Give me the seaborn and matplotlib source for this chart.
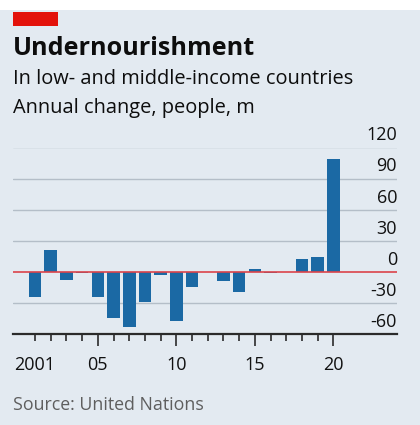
import matplotlib
matplotlib.use("Agg")
import matplotlib.pyplot as plt
import matplotlib.patches as mpatches
import seaborn as sns
import pandas as pd

# Annual change in undernourished people, millions
years = list(range(2001, 2021))
change = [-24, 21, -8, -1, -24, -45, -53, -29, -3, -47, -15, 0, -9, -19, 3, -1, 0, 12, 14, 109]

y_ticks = [-60, -30, 0, 30, 60, 90, 120]
x_label_years = [2001, 2005, 2010, 2015, 2020]
x_label_text = ["2001", "05", "10", "15", "20"]

BG = "#e3eaf1"
BLUE = "#1b69a4"
RED = "#db444b"
GRID = "#b4bec8"

sns.set_theme(style="white")
plt.rcParams["font.family"] = ["Open Sans", "DejaVu Sans"]

W, H = 420, 425
fig = plt.figure(figsize=(W / 100, H / 100), dpi=100)
fig.patch.set_facecolor(BG)

# white strip along the top
fig.add_artist(mpatches.Rectangle((0, 1 - 10 / H), 1, 10 / H, transform=fig.transFigure,
                                  facecolor="white", edgecolor="none", zorder=0))
# red tag
fig.add_artist(mpatches.Rectangle((13 / W, 1 - 26 / H), 45 / W, 14 / H, transform=fig.transFigure,
                                  facecolor="#e3120b", edgecolor="none"))

left, right = 13 / W, 397 / W
bottom, top = 1 - 334 / H, 1 - 147.5 / H
ax = fig.add_axes([left, bottom, right - left, top - bottom])
ax.set_facecolor(BG)

df = pd.DataFrame({"year": years, "change": change})
sns.barplot(data=df, x="year", y="change", native_scale=True, color=BLUE,
            saturation=1, width=0.8, ax=ax, zorder=3)
for p in ax.patches:
    p.set_edgecolor("none")

ax.set_xlim(1999.6, 2024.05)
ax.set_ylim(-60, 120)

for v in y_ticks:
    if v == 0:
        ax.axhline(v, color=RED, lw=1.2, zorder=4)
    elif v != -60:
        ax.axhline(v, color=GRID, lw=1.0, zorder=1)
    ax.text(1.0, v + 3.0, f"{v}", transform=ax.get_yaxis_transform(), ha="right", va="bottom",
            fontsize=13, color="#111111")

for s in ["top", "right", "left"]:
    ax.spines[s].set_visible(False)
ax.spines["bottom"].set_color("#2b2b2b")
ax.spines["bottom"].set_linewidth(1.6)
ax.spines["bottom"].set_zorder(5)

ax.set_yticks([])
ax.set_xticks(x_label_years)
ax.set_xticklabels(x_label_text, fontsize=13, color="#111111")
ax.set_xticks([y for y in years if y not in x_label_years[1:]], minor=True)
ax.tick_params(axis="x", which="major", length=8.5, width=1.2, color="#2b2b2b", pad=7.7, bottom=True)
ax.tick_params(axis="x", which="minor", length=5, width=1.2, color="#2b2b2b", bottom=True)
# the first year keeps a short tick
ax.xaxis.get_major_ticks()[0].tick1line.set_markersize(5)
ax.set_xlabel("")
ax.set_ylabel("")

fig.text(13 / W, 1 - 55 / H, "Undernourishment", fontsize=18.1, fontweight="bold",
         color="#0d0d0d", ha="left", va="baseline")
fig.text(13 / W, 1 - 84.5 / H, "In low- and middle-income countries", fontsize=14.4,
         color="#0d0d0d", ha="left", va="baseline")
fig.text(13 / W, 1 - 112.5 / H, "Annual change, people, m", fontsize=14.4,
         color="#0d0d0d", ha="left", va="baseline")
fig.text(13 / W, 1 - 410 / H, "Source: United Nations", fontsize=12.8,
         color="#5e5e5e", ha="left", va="baseline")

fig.savefig("out.png", dpi=100, facecolor=BG)
